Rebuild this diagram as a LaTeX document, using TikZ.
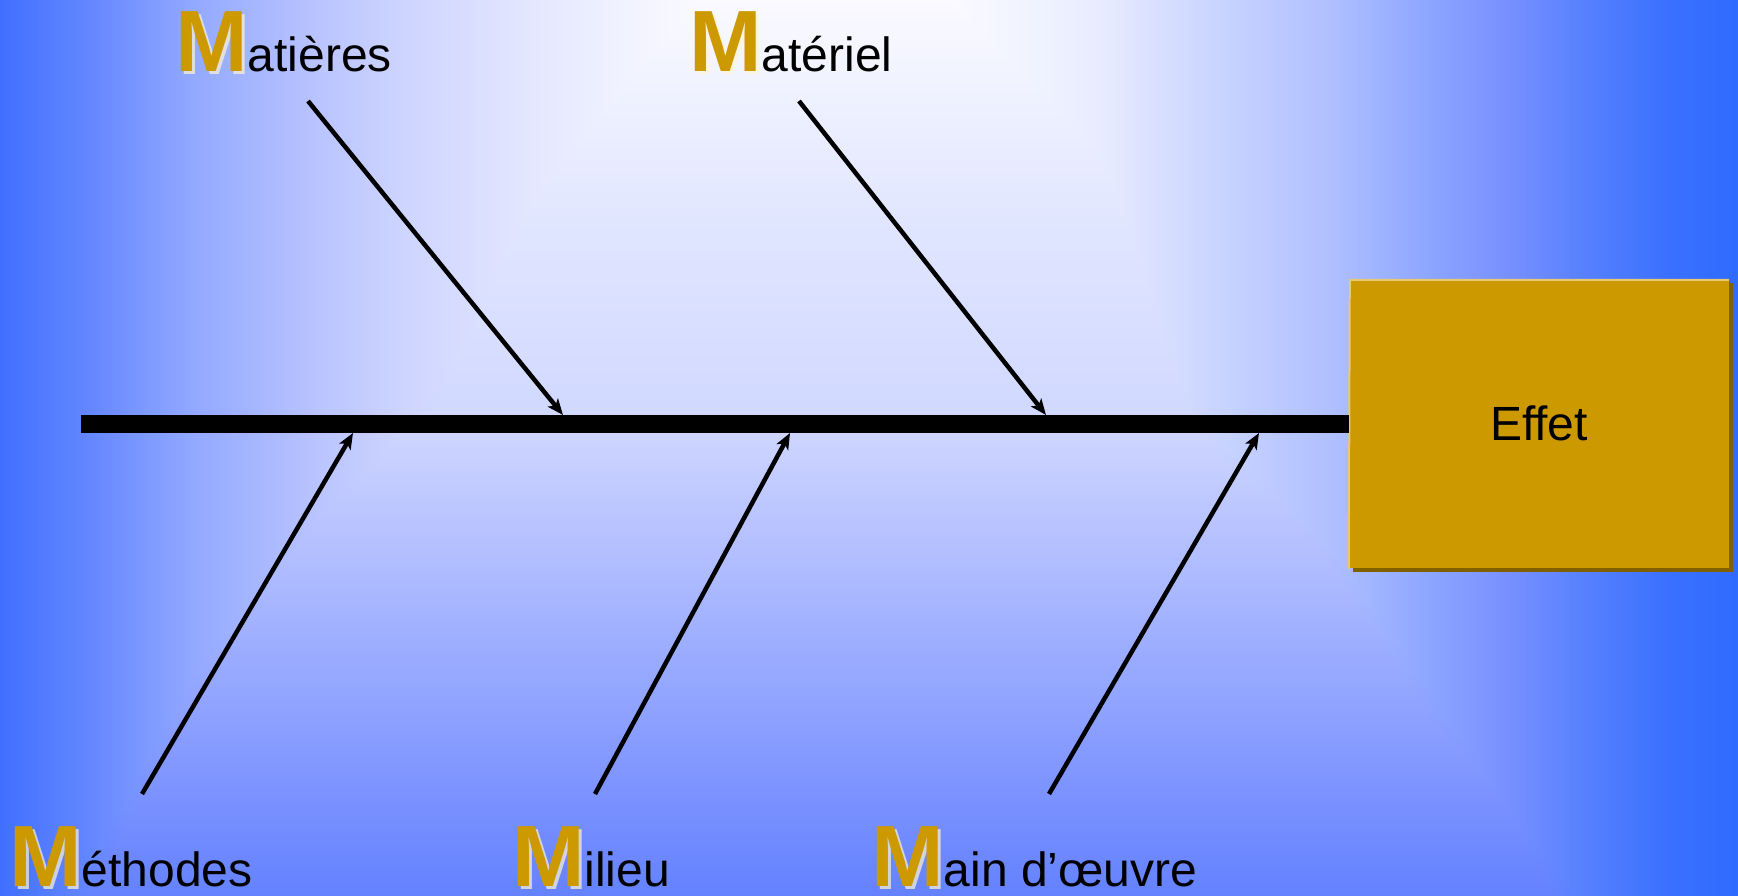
\documentclass[tikz,border=0pt]{standalone}
\usepackage{fontspec}
\setmainfont{Liberation Sans}
\usetikzlibrary{arrows.meta}
% horizontal profile
\definecolor{h0}{RGB}{64,112,255}
\definecolor{h1}{RGB}{100,135,255}
\definecolor{h2}{RGB}{145,168,255}
\definecolor{h3}{RGB}{185,195,255}
\definecolor{h4}{RGB}{205,212,255}
\definecolor{h5}{RGB}{232,235,255}
\definecolor{h6}{RGB}{250,250,255}
\definecolor{h7}{RGB}{250,250,255}
\definecolor{h8}{RGB}{232,236,255}
\definecolor{h9}{RGB}{205,215,255}
\definecolor{h10}{RGB}{176,192,255}
\definecolor{h11}{RGB}{140,165,255}
\definecolor{h12}{RGB}{120,144,255}
\definecolor{h13}{RGB}{85,128,255}
\definecolor{h14}{RGB}{58,112,255}
\definecolor{h15}{RGB}{46,107,255}
% vertical profile
\definecolor{v0}{RGB}{250,250,255}
\definecolor{v1}{RGB}{225,230,255}
\definecolor{v2}{RGB}{208,216,255}
\definecolor{v3}{RGB}{190,200,255}
\definecolor{v4}{RGB}{165,180,255}
\definecolor{v5}{RGB}{140,160,255}
\definecolor{v6}{RGB}{115,140,255}
\definecolor{v7}{RGB}{100,130,255}
\definecolor{gold}{RGB}{204,153,0}
\definecolor{goldshadow}{RGB}{128,96,0}
\definecolor{goldlight}{RGB}{232,200,112}
\definecolor{glow}{RGB}{255,244,210}
\newcommand{\bigM}{\fontsize{87}{90}\bfseries\selectfont}
\newcommand{\lblfont}{\fontsize{48}{56}\selectfont}
\tikzset{
  branch/.style={line width=4.5pt, -{Stealth[length=16pt,width=13pt,inset=4pt]}},
  spine/.style={line width=18pt},
  mglow/.style={anchor=base west, inner sep=0pt, text=glow, opacity=0.7},
  mlbl/.style={anchor=base west, inner sep=0pt},
  effetbox/.style={fill=gold, minimum width=380pt, minimum height=289pt, inner sep=0pt, font=\fontsize{48}{56}\selectfont}
}
\begin{document}
\begin{tikzpicture}[x=1pt,y=-1pt]
\useasboundingbox (0,0) rectangle (1738,895);
% background: vertical gradient, then horizontal gradient in darken mode
\foreach \ya/\yb/\ca/\cb in {0/220/v0/v1, 220/420/v1/v2, 420/500/v2/v3, 500/610/v3/v4, 610/720/v4/v5, 720/830/v5/v6, 830/895/v6/v7}{
  \shade[top color=\ca, bottom color=\cb] (-1,\ya-0.5) rectangle (1739,\yb+0.5);
}
\begin{scope}[blend mode=darken]
\foreach \xa/\xb/\ca/\cb in {0/90/h0/h1, 90/190/h1/h2, 190/314/h2/h3, 314/400/h3/h4, 400/560/h4/h5, 560/700/h5/h6, 700/950/h6/h7, 950/1100/h7/h8, 1100/1200/h8/h9, 1200/1330/h9/h10, 1330/1430/h10/h11, 1430/1507/h11/h12, 1507/1588/h12/h13, 1588/1670/h13/h14, 1670/1738/h14/h15}{
  \shade[left color=\ca, right color=\cb] (\xa-0.5,-1) rectangle (\xb+0.5,896);
}
\end{scope}

% effect box
\fill[goldshadow] (1353,283) rectangle (1733,572);
\node[effetbox] (effet) at (1539,423.5) {Effet};
\draw[goldlight, line width=2pt] ([yshift=-1pt]effet.south west) -- ([xshift=1pt,yshift=-1pt]effet.north west) -- ([yshift=-1pt]effet.north east);

% spine
\coordinate (sp0) at (81,424);
\draw[spine] (sp0) -- (effet.west |- sp0);

% branches
\coordinate (b1s) at (308,101);  \coordinate (b1e) at (563,415);
\coordinate (b2s) at (799,101);  \coordinate (b2e) at (1046,415);
\coordinate (b3s) at (142,794);  \coordinate (b3e) at (353,433);
\coordinate (b4s) at (595,794);  \coordinate (b4e) at (790,433);
\coordinate (b5s) at (1049,794); \coordinate (b5e) at (1259,433);
\draw[branch] (b1s) -- (b1e);
\draw[branch] (b2s) -- (b2e);
\draw[branch] (b3s) -- (b3e);
\draw[branch] (b4s) -- (b4e);
\draw[branch] (b5s) -- (b5e);

% labels
\node[mglow] (g1) at (178,74) {\bigM M};
\node[mlbl] (l1) at (175,71) {{\bigM\color{gold}M}{\lblfont atières}};
\node[mglow] (g2) at (692,74) {\bigM M};
\node[mlbl] (l2) at (689,71) {{\bigM\color{gold}M}{\lblfont atériel}};
\node[mglow] (g3) at (12,889) {\bigM M};
\node[mlbl] (l3) at (9,886) {{\bigM\color{gold}M}{\lblfont éthodes}};
\node[mglow] (g4) at (515,889) {\bigM M};
\node[mlbl] (l4) at (512,886) {{\bigM\color{gold}M}{\lblfont ilieu}};
\node[mglow] (g5) at (874,889) {\bigM M};
\node[mlbl] (l5) at (871,886) {{\bigM\color{gold}M}{\lblfont ain d’œuvre}};
\end{tikzpicture}
\end{document}
